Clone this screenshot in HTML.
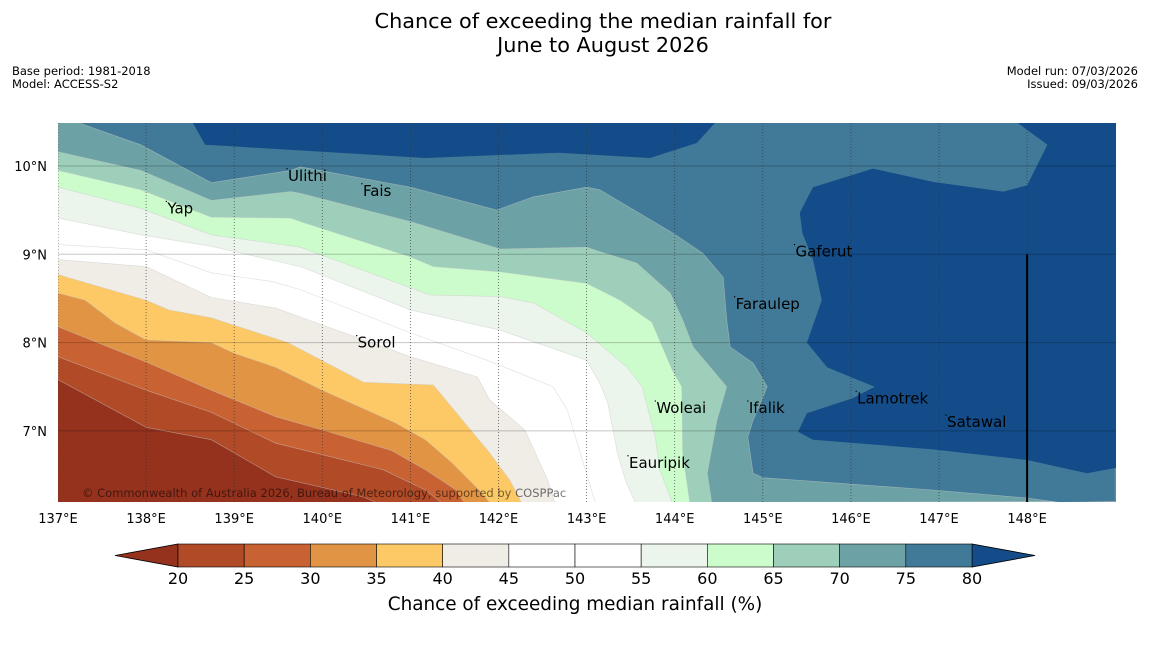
<!DOCTYPE html>
<html><head><meta charset="utf-8"><style>
body{margin:0;background:#fff;width:1150px;height:644px;overflow:hidden;font-family:"DejaVu Sans","Liberation Sans",sans-serif}
svg text{font-family:"DejaVu Sans","Liberation Sans",sans-serif}
</style></head><body>
<svg id="chart" width="1150" height="644" xmlns="http://www.w3.org/2000/svg">
<rect width="1150" height="644" fill="#fff"/>
<text x="603" y="28" font-size="20.8" text-anchor="middle" fill="#000">Chance of exceeding the median rainfall for</text>
<text x="603" y="52" font-size="20.8" text-anchor="middle" fill="#000">June to August 2026</text>
<text x="12" y="75" font-size="11.5">Base period: 1981-2018</text>
<text x="12" y="88" font-size="11.5">Model: ACCESS-S2</text>
<text x="1138" y="75" font-size="11.5" text-anchor="end">Model run: 07/03/2026</text>
<text x="1138" y="88" font-size="11.5" text-anchor="end">Issued: 09/03/2026</text>
<defs><clipPath id="mapclip"><rect x="58" y="123" width="1058" height="379"/></clipPath></defs>
<g id="map" clip-path="url(#mapclip)"></g>
<g id="overlay"></g>
<g id="cbar"></g>
</svg>
<script>
const levels = [20,25,30,35,40,45,50,55,60,65,70,75];
const bandColors = ["#b04a27","#c96232","#e09444","#fdc966","#f0ece6","#ffffff","#ffffff","#ebf5eb","#ccfccc","#9dcfba","#6ca2a5","#417a98"];
const belowColor = "#95321e";
const aboveColor = "#134c88";
const c20Lon=[137.00,138.00,138.74,139.47,140.00,140.47,140.61];
const c20Lat=[7.58,7.04,6.90,6.48,6.36,6.25,6.19];
const c25Lon=[137.00,138.00,138.74,139.47,140.00,140.69,141.17,141.35];
const c25Lat=[7.84,7.46,7.21,6.86,6.73,6.56,6.33,6.19];
const c30Lon=[137.00,138.00,138.74,139.47,140.00,140.78,141.17,141.52,141.61];
const c30Lat=[8.18,7.78,7.46,7.16,7.01,6.78,6.56,6.33,6.19];
const c35Lon=[137.00,137.31,137.65,138.00,138.74,139.00,139.47,140.00,140.83,141.17,141.47,141.78,141.90];
const c35Lat=[8.56,8.48,8.22,8.03,8.00,7.88,7.72,7.46,7.09,6.90,6.64,6.33,6.19];
const c40Lon=[137.00,138.00,138.26,138.74,139.61,140.47,141.26,141.56,141.90,142.13,142.26];
const c40Lat=[8.77,8.48,8.37,8.28,8.00,7.55,7.52,7.16,6.75,6.44,6.19];
const c45Lon=[137.00,138.00,138.74,139.47,139.75,141.00,141.30,141.76,141.90,142.30,142.56,142.64];
const c45Lat=[8.94,8.86,8.51,8.39,8.29,7.84,7.75,7.61,7.35,7.01,6.44,6.19];
const c50Lon=[137.00,138.00,138.74,139.43,139.75,141.00,141.87,142.62,142.78,143.08,143.10];
const c50Lat=[9.11,9.05,8.79,8.69,8.60,8.11,7.80,7.50,7.24,6.25,6.19];
const c55Lon=[137.00,137.94,138.74,139.75,141.00,142.02,143.00,143.15,143.24,143.35,143.44,143.55];
const c55Lat=[9.41,9.22,9.09,8.86,8.37,8.14,7.80,7.54,7.32,6.75,6.44,6.19];
const c60Lon=[137.00,137.94,138.74,139.75,141.22,142.02,142.39,143.00,143.46,143.63,143.78,143.83,143.97];
const c60Lat=[9.76,9.52,9.22,9.08,8.54,8.52,8.45,8.11,7.72,7.50,6.93,6.56,6.19];
const c65Lon=[137.00,137.94,138.74,139.64,139.75,141.00,141.26,142.02,143.00,143.38,143.74,143.97,144.08,144.09,144.17];
const c65Lat=[9.95,9.73,9.42,9.41,9.37,8.97,8.86,8.80,8.67,8.48,8.23,7.69,7.50,6.75,6.19];
const c70Lon=[137.00,137.94,138.74,139.64,139.75,141.00,142.02,143.00,143.15,143.57,143.95,144.09,144.21,144.59,144.48,144.37,144.42];
const c70Lat=[10.16,9.95,9.61,9.71,9.69,9.37,9.06,9.08,9.03,8.90,8.56,8.26,7.95,7.50,7.12,6.52,6.19];
const c75Lon=[137.23,137.94,138.74,139.64,139.75,141.00,141.98,142.39,143.00,143.15,143.98,144.32,144.55,144.59,144.63,144.89,145.05,144.89,144.83,144.89,145.00,146.93,148.00,148.37];
const c75Lat=[10.49,10.24,9.81,9.95,9.99,9.76,9.50,9.65,9.76,9.73,9.24,9.01,8.74,8.26,7.95,7.77,7.50,7.12,6.93,6.52,6.47,6.33,6.24,6.19];
const c80aLon=[138.53,138.67,139.01,141.17,142.68,143.72,144.25,144.46];
const c80aLat=[10.49,10.24,10.22,10.09,10.15,10.09,10.26,10.49];
const c80bLon=[147.89,148.23,148.00,147.73,146.93,146.25,145.57,145.42,145.45,145.57,145.67,145.50,145.73,146.02,146.27,146.02,145.50,145.40,145.57,146.93,148.00,148.68,149.01,149.01];
const c80bLat=[10.49,10.24,9.78,9.71,9.82,9.97,9.76,9.47,9.24,8.94,8.48,8.00,7.72,7.60,7.50,7.37,7.20,6.99,6.90,6.79,6.67,6.52,6.58,10.49];
const lonTicks=[137,138,139,140,141,142,143,144,145,146,147,148];
const latTicks=[7,8,9,10];
const places=["Yap","Ulithi","Fais","Sorol","Gaferut","Faraulep","Woleai","Ifalik","Lamotrek","Satawal","Eauripik"];
const placeLon=[138.23,139.60,140.45,140.39,145.36,144.68,143.78,144.83,146.06,147.08,143.47];
const placeLat=[9.53,9.90,9.73,8.01,9.04,8.45,7.27,7.27,7.38,7.11,6.65];

const LON0=137, LON1=149, LAT0=6.2, LAT1=10.49;
const X0=58, X1=1115.2, YB=501.5, YT=122.7;
function xs(lon){return X0+(lon-LON0)*(X1-X0)/(LON1-LON0);}
function ys(lat){return YB-(lat-LAT0)*(YB-YT)/(LAT1-LAT0);}
const NS="http://www.w3.org/2000/svg";
const map=document.getElementById('map');
function mk(tag,attrs,parent){const e=document.createElementNS(NS,tag);for(const k in attrs)e.setAttribute(k,attrs[k]);parent.appendChild(e);return e;}

const bg=mk('rect',{x:58,y:123,width:1058,height:379,fill:belowColor},map);


const contourLon=[c20Lon,c25Lon,c30Lon,c35Lon,c40Lon,c45Lon,c50Lon,c55Lon,c60Lon,c65Lon,c70Lon,c75Lon];
const contourLat=[c20Lat,c25Lat,c30Lat,c35Lat,c40Lat,c45Lat,c50Lat,c55Lat,c60Lat,c65Lat,c70Lat,c75Lat];
levels.forEach((lv,i)=>{
  const lo=contourLon[i], la=contourLat[i];
  let pts=lo.map((v,j)=>xs(v).toFixed(1)+','+ys(la[j]).toFixed(1));
  pts.push(xs(LON1)+','+ys(LAT0),xs(LON1)+','+ys(LAT1),xs(LON0)+','+ys(LAT1));
  const p=mk('polygon',{points:pts.join(' '),fill:bandColors[i],stroke:'#c8c8c8','stroke-width':0.6,'stroke-opacity':0.6},map);
  
  
});
[[c80aLon,c80aLat],[c80bLon,c80bLat]].forEach((c,i)=>{
  const pts=c[0].map((v,j)=>xs(v).toFixed(1)+','+ys(c[1][j]).toFixed(1));
  const p=mk('polygon',{points:pts.join(' '),fill:aboveColor},map);
  
  
});
lonTicks.forEach(l=>{
  const g=mk('line',{x1:xs(l),x2:xs(l),y1:123,y2:502,stroke:'#333','stroke-width':0.8,'stroke-dasharray':'1,2','stroke-opacity':0.8},map);
  
  
  const t=mk('text',{x:xs(l),y:523,'font-size':13,'text-anchor':'middle'},document.getElementById('overlay'));
  t.textContent=l+'°E';
  
  
});
latTicks.forEach(l=>{
  const g=mk('line',{x1:58,x2:1116,y1:ys(l),y2:ys(l),stroke:'#000','stroke-width':1,'stroke-opacity':0.22},map);
  
  
  const t=mk('text',{x:47,y:ys(l)+5,'font-size':13,'text-anchor':'end'},document.getElementById('overlay'));
  t.textContent=l+'°N';
  
  
});
const bl=mk('line',{x1:xs(148),x2:xs(148),y1:ys(9),y2:502,stroke:'#000','stroke-width':2},map);


places.forEach((n,i)=>{
  const d=mk('circle',{cx:xs(placeLon[i]),cy:ys(placeLat[i])-6,r:0.7,fill:'#000'},map);
  
  
  const t=mk('text',{x:xs(placeLon[i])+1,y:ys(placeLat[i])+6,'font-size':15,fill:'#000'},map);
  t.textContent=n;
  
  
});
const cp=mk('text',{x:82,y:497,'font-size':11.5,fill:'#000','fill-opacity':0.55},map);
cp.textContent='© Commonwealth of Australia 2026, Bureau of Meteorology, supported by COSPPac';


const cb=document.getElementById('cbar');
const CBX0=178, CBX1=972, CBY=544, CBH=23, segW=(CBX1-CBX0)/bandColors.length;
const lt=mk('polygon',{points:`${CBX0},${CBY} ${CBX0},${CBY+CBH} 115,${CBY+CBH/2}`,fill:belowColor,stroke:'#000','stroke-width':0.8},cb);


const rt=mk('polygon',{points:`${CBX1},${CBY} ${CBX1},${CBY+CBH} 1035,${CBY+CBH/2}`,fill:aboveColor,stroke:'#000','stroke-width':0.8},cb);


bandColors.forEach((c,i)=>{
  const r=mk('rect',{x:CBX0+i*segW,y:CBY,width:segW,height:CBH,fill:c,stroke:'#000','stroke-width':0.6},cb);
  
  
});
levels.concat([80]).forEach((lv,i)=>{
  const t=mk('text',{x:CBX0+i*segW,y:584,'font-size':16,'text-anchor':'middle'},cb);
  t.textContent=lv;
  
  
});
const ct=mk('text',{x:575,y:610,'font-size':18.4,'text-anchor':'middle'},cb);
ct.textContent='Chance of exceeding median rainfall (%)';


</script>
</body></html>
